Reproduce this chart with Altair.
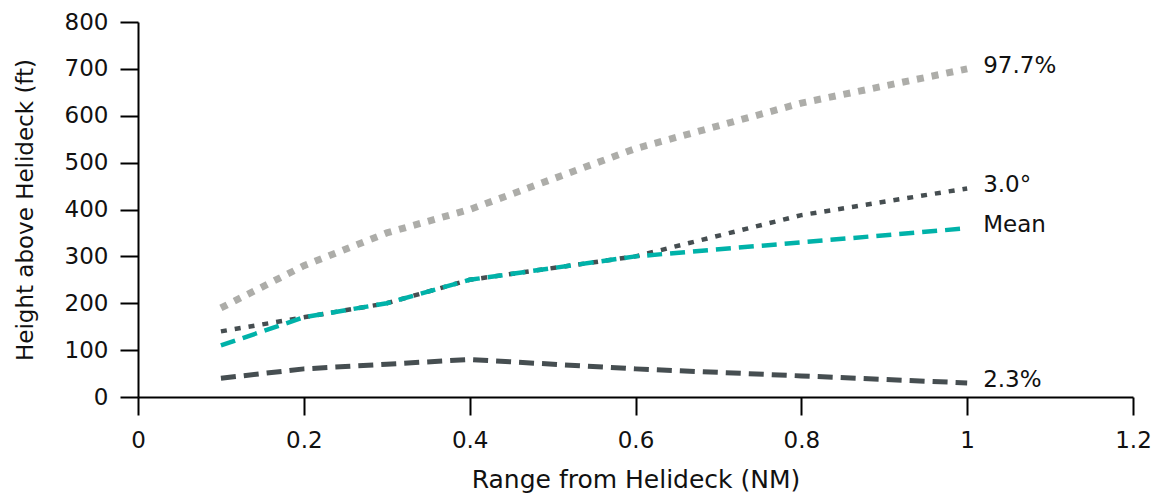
import altair as alt
import pandas as pd

ranges = [0.1, 0.2, 0.3, 0.4, 0.6, 0.8, 1.0]
p977 = [190, 280, 350, 400, 530, 627, 700]
deg3 = [140, 170, 200, 250, 300, 388, 445]
mean = [110, 170, 200, 250, 300, 330, 360]
p23 = [40, 60, 70, 80, 60, 45, 30]

series_names = ["97.7%", "3.0°", "Mean", "2.3%"]
series_vals = [p977, deg3, mean, p23]
colors = ["#ADADA9", "#464E51", "#00B2A9", "#464E51"]
dashes = [[7, 8], [6, 8], [15, 8], [15, 8]]
widths = [7, 4.5, 4.5, 5]

FONT = "DejaVu Sans"

rows = []
for name, vals in zip(series_names, series_vals):
    for r, v in zip(ranges, vals):
        rows.append({"series": name, "range": r, "height": v})
df = pd.DataFrame(rows)
end_df = df[df["range"] == 1.0]

x = alt.X("range:Q", scale=alt.Scale(domain=[0, 1.2], nice=False),
          axis=alt.Axis(values=[0, 0.2, 0.4, 0.6, 0.8, 1.0, 1.2], format="~g",
                        labelFlush=False, labelPadding=14,
                        title="Range from Helideck (NM)", titlePadding=15, titleFontSize=25))
y = alt.Y("height:Q", scale=alt.Scale(domain=[0, 800], nice=False),
          axis=alt.Axis(values=list(range(0, 801, 100)),
                        title="Height above Helideck (ft)", titlePadding=27, labelPadding=12))

layers = []
for name, c, d, w in [("2.3%", colors[3], dashes[3], widths[3]),
                      ("97.7%", colors[0], dashes[0], widths[0]),
                      ("3.0°", colors[1], dashes[1], widths[1]),
                      ("Mean", colors[2], dashes[2], widths[2])]:
    layers.append(
        alt.Chart(df[df["series"] == name]).mark_line(
            color=c, strokeDash=d, strokeWidth=w, strokeCap="butt"
        ).encode(x=x, y=y)
    )

labels = alt.Chart(end_df).mark_text(
    align="left", baseline="middle", dx=16, dy=-3, fontSize=23, font=FONT, color="#111111"
).encode(x=x, y=y, text="series:N")

chart = alt.layer(*layers, labels).properties(
    width=995, height=375,
    autosize=alt.AutoSizeParams(type="none"),
    padding={"left": 130, "top": 14, "right": 19, "bottom": 99},
).configure_view(stroke=None).configure_axis(
    domainColor="#000000", domainWidth=2, tickColor="#000000", tickWidth=2,
    tickSize=18, grid=False, labelFont=FONT, labelFontSize=23, labelColor="#111111",
    titleFont=FONT, titleFontSize=23, titleFontWeight="normal", titleColor="#111111",
)

chart.save("out.html", embed_options={"renderer": "svg", "actions": False})
